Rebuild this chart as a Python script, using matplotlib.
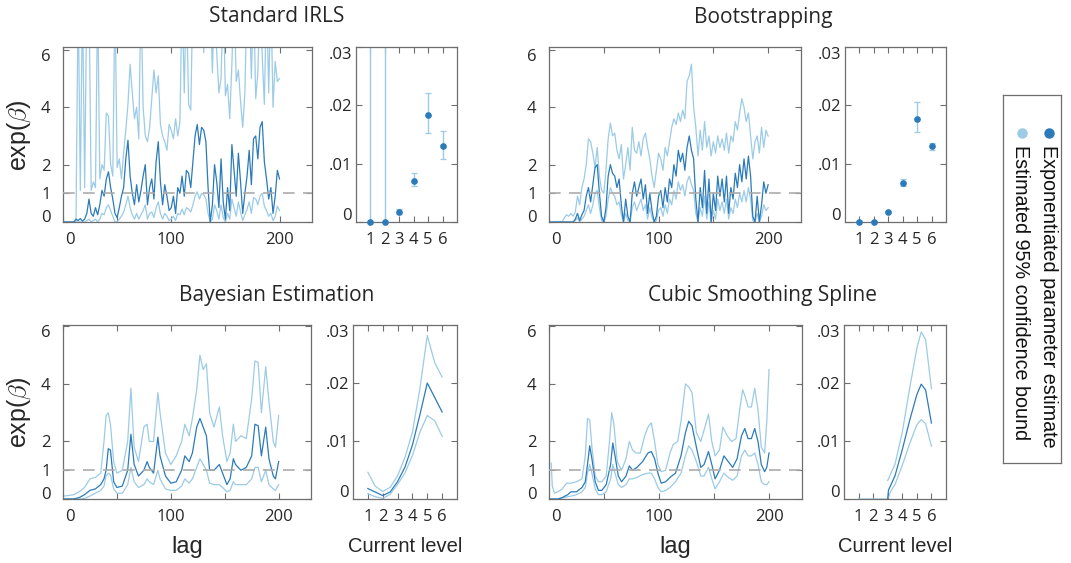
import numpy as np
import matplotlib
matplotlib.use("Agg")
import matplotlib.pyplot as plt
from matplotlib.transforms import ScaledTranslation

plt.rcParams['mathtext.fontset'] = 'cm'

# ---------------- data ----------------
lags2 = list(range(0, 201, 2))

irls_est = [0, 0, 0, 0, 0, 0, 0.1, 0.05, 0.12, 0.03, 0.1,
            0.3, 0.8, 0.3, 0.2, 0.5, 0.25, 0.6, 1.1, 0.9, 1.5,
            1.75, 1.2, 0.8, 0.3, 0.15, 0.5, 0.9, 1.2, 2.2, 2.85,
            1.6, 1.0, 0.6, 1.3, 0.7, 1.1, 1.6, 2.0, 0.6, 1.2,
            1.5, 0.8, 2.1, 2.8, 1.4, 0.6, 1.3, 0.9, 0.4, 0.5,
            0.9, 0.3, 1.2, 1.0, 1.6, 0.9, 1.8, 1.7, 1.2, 2.1,
            3.0, 3.4, 2.7, 3.3, 3.2, 2.8, 1.2, 0.0, 0.6, 2.0,
            1.4, 0.5, 2.2, 0.7, 0.1, 1.2, 0.4, 2.7, 1.8, 0.9,
            2.4, 1.4, 0.3, 1.0, 1.6, 2.5, 1.3, 2.9, 3.0, 2.2,
            3.3, 3.5, 2.1, 1.5, 0.8, 1.2, 0.3, 0.9, 1.8, 1.5]
irls_hi = [0, 0, 0, 0, 0, 0, 0, 8, 1.1, 8, 1.2,
           8, 8, 1.1, 1.4, 1.2, 8, 1.5, 2.0, 1.8, 3.8,
           3.7, 2.0, 1.6, 8, 1.9, 2.2, 1.5, 2.4, 3.2, 4.1,
           5.5, 4.5, 3.6, 4.0, 2.9, 8, 4.0, 3.0, 2.8, 3.3,
           4.3, 5.3, 4.5, 5.1, 3.4, 3.0, 2.8, 2.5, 3.4, 3.2,
           2.9, 3.6, 3.0, 3.5, 8, 4.5, 8, 4.1, 3.9, 8,
           8, 8, 8, 8, 5.9, 8, 8, 8, 5.2, 8,
           5.9, 4.5, 5.0, 8, 4.4, 4.8, 3.6, 5.5, 8, 4.9,
           5.3, 4.2, 3.3, 4.5, 8, 8, 5.0, 8, 4.3, 5.2,
           8, 5.8, 4.1, 8, 4.5, 8, 4.0, 5.6, 4.9, 5.0]
irls_lo = [0, 0, 0, 0, 0, 0, 0, 0, 0, 0, 0,
           0.05, 0.1, 0, 0.05, 0.1, 0, 0.1, 0.3, 0.25, 0.5,
           0.6, 0.4, 0.2, 0.0, 0, 0.1, 0.2, 0.35, 0.6, 0.9,
           0.5, 0.25, 0.1, 0.3, 0.1, 0.25, 0.4, 0.6, 0.1, 0.3,
           0.35, 0.15, 0.5, 0.7, 0.3, 0.1, 0.3, 0.2, 0.05, 0.1,
           0.2, 0.05, 0.3, 0.25, 0.45, 0.25, 0.5, 0.45, 0.35, 0.6,
           0.9, 1.05, 0.8, 1.0, 0.95, 0.8, 0.3, 0, 0.1, 0.6,
           0.4, 0.1, 0.6, 0.15, 0, 0.3, 0.1, 0.8, 0.5, 0.2,
           0.7, 0.35, 0.05, 0.25, 0.45, 0.7, 0.3, 0.85, 0.8, 0.6,
           0.9, 1.0, 0.55, 0.4, 0.2, 0.3, 0.05, 0.2, 0.55, 0.4]

boot_est = [0, 0, 0, 0, 0, 0, 0, 0, 0, 0, 0, 0,
            0.1, 0.3, 0.05, 0.25, 0.4, 0.9, 1.2, 0.7, 1.3,
            1.9, 2.0, 1.0, 0.2, 0, 0.5, 1.6, 2.0, 1.7, 1.6,
            1.2, 1.5, 0.6, 0, 0.8, 0.2, 0, 1.0, 1.4, 0.9,
            1.2, 1.5, 0.8, 1.3, 0.3, 1.0, 0.4, 0, 0.2, 0.9,
            1.1, 0.5, 1.2, 0.7, 1.5, 1.2, 2.0, 1.6, 2.5, 2.1,
            2.4, 1.8, 2.6, 3.0, 2.5, 2.2, 0.8, 0, 1.2, 0.5,
            1.8, 0.3, 1.5, 0, 1.0, 0.4, 1.6, 0.9, 1.5, 0.7,
            1.6, 0.3, 1.2, 0.8, 1.7, 1.2, 2.0, 1.4, 2.2, 1.5,
            2.3, 1.6, 0.2, 0, 0.9, 0, 0.6, 1.4, 1.0, 1.3]
boot_hi = [0, 0, 0, 0, 0, 0, 0, 0.15, 0.25, 0.2, 0.3,
           0.2, 0.35, 0.9, 0.6, 1.2, 1.5, 2.0, 2.9, 2.8, 2.4,
           1.9, 2.6, 1.6, 1.1, 1.0, 1.8, 2.9, 3.45, 3.0, 3.1,
           2.5, 2.2, 2.7, 1.5, 2.0, 2.6, 1.8, 3.3, 2.5, 2.4,
           2.8, 2.3, 2.9, 3.1, 2.6, 2.2, 1.6, 1.2, 1.8, 2.4,
           2.2, 1.8, 2.6, 2.3, 2.8, 3.3, 3.6, 3.4, 3.8, 3.5,
           3.9, 3.6, 4.9, 5.1, 5.5, 4.0, 3.3, 2.3, 3.2, 2.5,
           3.5, 2.6, 3.0, 2.3, 2.8, 2.4, 3.0, 2.6, 2.9, 2.5,
           3.1, 2.4, 3.0, 2.8, 3.5, 3.2, 3.8, 4.3, 4.0, 3.5,
           3.8, 3.0, 2.2, 2.8, 3.0, 2.4, 3.3, 2.6, 3.2, 3.0]
boot_lo = [0, 0, 0, 0, 0, 0, 0, 0, 0, 0, 0, 0,
           0.05, 0.15, 0, 0.1, 0.2, 0.4, 0.6, 0.3, 0.6,
           1.0, 1.1, 0.5, 0.05, 0, 0.2, 0.8, 1.2, 1.0, 0.9,
           0.6, 0.7, 0.25, 0, 0.3, 0.05, 0, 0.5, 0.7, 0.4,
           0.6, 0.8, 0.4, 0.6, 0.1, 0.5, 0.15, 0, 0.05, 0.4,
           0.5, 0.2, 0.6, 0.3, 0.8, 0.6, 1.1, 0.8, 1.4, 1.1,
           1.3, 0.9, 1.4, 1.6, 1.3, 1.1, 0.3, 0, 0.5, 0.2,
           0.9, 0.1, 0.7, 0, 0.4, 0.1, 0.8, 0.4, 0.7, 0.3,
           0.8, 0.1, 0.5, 0.3, 0.8, 0.5, 1.0, 0.7, 1.1, 0.7,
           1.2, 0.8, 0.05, 0, 0.3, 0, 0.2, 0.6, 0.4, 0.5]

bayes_lag = [0, 5, 10, 15, 20, 25, 30, 35, 38, 40, 42, 44, 47, 50, 55,
             60, 63, 66, 70, 75, 78, 80, 84, 88, 90, 95, 100, 105, 110, 113,
             117, 120, 124, 127, 130, 133, 136, 140, 145, 148, 152, 155, 158, 160, 165,
             170, 175, 178, 181, 184, 188, 191, 195, 197, 200]
bayes_est = [0, 0, 0, 0.05, 0.15, 0.3, 0.35, 0.5, 0.7, 1.0, 1.75, 1.7, 0.6, 0.4, 0.45,
             1.0, 2.25, 1.2, 0.8, 1.0, 1.3, 1.1, 0.9, 2.15, 1.5, 0.8, 0.55, 0.6, 1.0, 1.5,
             1.3, 1.6, 2.5, 2.8, 2.5, 2.2, 1.0, 1.0, 1.2, 0.9, 0.5, 0.7, 1.4, 1.2, 1.0,
             1.1, 1.5, 2.6, 2.55, 1.5, 2.5, 1.4, 0.8, 0.7, 1.3]
bayes_hi = [0.1, 0.12, 0.15, 0.25, 0.4, 0.7, 0.75, 0.9, 2.0, 2.9, 3.0, 2.6, 1.3, 0.9, 1.0,
            2.0, 3.85, 1.8, 1.3, 2.5, 2.6, 2.0, 2.0, 3.7, 3.0, 1.6, 1.2, 1.5, 2.0, 2.6,
            2.2, 2.8, 3.8, 5.0, 4.5, 4.7, 3.0, 2.5, 3.2, 2.2, 1.3, 1.6, 2.6, 2.0, 2.2,
            2.1, 3.5, 4.8, 4.75, 3.0, 4.6, 3.4, 2.0, 1.8, 2.9]
bayes_lo = [0, 0, 0, 0, 0.02, 0.1, 0.2, 0.3, 0.45, 0.8, 0.9, 0.85, 0.35, 0.2, 0.2,
            0.5, 1.1, 0.6, 0.4, 0.5, 0.7, 0.6, 0.5, 1.0, 0.7, 0.35, 0.3, 0.3, 0.45, 0.7,
            0.55, 0.7, 1.1, 1.4, 1.2, 1.0, 0.55, 0.5, 0.5, 0.4, 0.25, 0.3, 0.6, 0.5, 0.5,
            0.5, 0.7, 1.1, 1.1, 0.6, 1.0, 0.5, 0.35, 0.3, 0.5]

spl_lag = [0, 8, 12, 17, 20, 25, 30, 33, 35, 37, 39, 42, 45, 48, 52,
           56, 58, 60, 63, 66, 70, 73, 76, 80, 85, 90, 93, 96, 99, 102,
           106, 110, 115, 120, 124, 127, 130, 134, 138, 141, 145, 148, 151, 155, 159,
           163, 167, 171, 175, 178, 181, 184, 187, 190, 193, 196, 198, 200]
spl_est = [0, 0, 0.05, 0.15, 0.25, 0.25, 0.4, 0.6, 1.2, 1.85, 1.4, 0.6, 0.3, 0.3, 0.5,
           1.2, 1.95, 1.5, 0.8, 0.6, 0.8, 1.15, 1.0, 1.1, 1.3, 1.6, 1.65, 1.4, 0.9, 0.55,
           0.6, 0.75, 0.9, 1.5, 2.3, 2.7, 2.55, 1.8, 1.1, 1.2, 1.65, 1.2, 0.7, 1.0, 1.5,
           1.3, 1.1, 1.4, 2.2, 2.45, 2.1, 2.1, 2.45, 2.0, 1.2, 0.95, 1.1, 1.6]
spl_lo = [0, 0, 0.03, 0.08, 0.1, 0.15, 0.25, 0.4, 0.9, 1.2, 0.9, 0.35, 0.15, 0.15, 0.25,
          0.7, 1.2, 0.9, 0.5, 0.4, 0.5, 0.7, 0.7, 0.75, 0.85, 0.9, 0.9, 0.7, 0.4, 0.25,
          0.3, 0.4, 0.6, 0.9, 1.5, 1.85, 1.7, 1.3, 0.8, 0.8, 1.1, 0.7, 0.35, 0.6, 0.9,
          0.75, 0.65, 0.8, 1.5, 1.7, 1.5, 1.5, 1.6, 1.2, 0.6, 0.5, 0.5, 0.6]
spl_hi_lag = [2, 3, 5, 8, 12, 16, 20, 25, 30, 33, 35, 37, 39, 42, 45,
              48, 52, 55, 57, 59, 62, 66, 70, 73, 76, 79, 83, 87, 90, 93,
              96, 99, 102, 106, 110, 113, 117, 120, 124, 127, 130, 134, 138, 141, 145,
              148, 151, 155, 158, 162, 166, 170, 173, 176, 178, 181, 184, 187, 190, 193,
              196, 198, 200]
spl_hi = [1.25, 0.45, 0.2, 0.25, 0.35, 0.55, 0.55, 0.6, 0.7, 1.5, 2.8, 2.75, 1.8, 0.8, 0.6,
          0.6, 0.8, 2.0, 3.0, 2.6, 1.3, 1.0, 1.4, 2.0, 1.7, 1.6, 1.6, 2.2, 2.5, 2.65,
          2.0, 1.2, 0.95, 1.0, 1.6, 1.9, 2.0, 2.7, 4.0, 3.9, 3.7, 2.3, 2.0, 2.4, 2.95,
          2.0, 1.5, 1.7, 2.5, 2.2, 2.0, 2.1, 3.0, 3.8, 3.6, 3.2, 3.2, 3.85, 3.1, 1.8,
          1.6, 2.7, 4.5]

# current-level panels
levels = [1, 2, 3, 4, 5, 6]
irls_lvl_est = [0, 0, 0.0017, 0.00705, 0.0184, 0.0130]
irls_lvl_lo = [0, 0, 0.0014, 0.0061, 0.0153, 0.0108]
irls_lvl_hi = [0.05, 0.05, 0.0022, 0.0084, 0.0221, 0.0156]
boot_lvl_est = [0, 0, 0.0017, 0.0067, 0.0177, 0.0130]
boot_lvl_lo = [0, 0, 0.0015, 0.0061, 0.0154, 0.0124]
boot_lvl_hi = [0.0001, 0.0001, 0.0019, 0.0074, 0.0206, 0.0135]

bayes_lvl_x = [1, 1.5, 2, 2.5, 3, 3.5, 4, 4.5, 5, 5.5, 6]
bayes_lvl_est = [0.0018, 0.0012, 0.0006, 0.0012, 0.003, 0.0055, 0.0093, 0.0145, 0.020, 0.0175, 0.015]
bayes_lvl_hi = [0.0046, 0.0022, 0.0013, 0.002, 0.004, 0.0072, 0.0115, 0.019, 0.0282, 0.0235, 0.021]
bayes_lvl_lo = [0.0009, 0.0004, 0.0001, 0.0008, 0.0025, 0.0045, 0.0075, 0.0115, 0.0144, 0.0135, 0.0108]

spl_lvl_est_x = [3, 3.05, 3.5, 4, 4.5, 5, 5.3, 5.6, 6]
spl_lvl_est = [0, 0.0015, 0.004, 0.0085, 0.0135, 0.018, 0.0198, 0.0188, 0.0131]
spl_lvl_lo_x = [1, 3.0, 3.2, 3.5, 4, 4.5, 5, 5.3, 5.6, 6]
spl_lvl_lo = [0, 0, 0.0013, 0.0025, 0.0058, 0.0095, 0.0128, 0.0137, 0.0130, 0.0091]
spl_lvl_hi_x = [3, 3.5, 4, 4.5, 5, 5.3, 5.6, 6]
spl_lvl_hi = [0.0032, 0.006, 0.0115, 0.019, 0.026, 0.0288, 0.0275, 0.019]

titles = ["Standard IRLS", "Bootstrapping", "Bayesian Estimation", "Cubic Smoothing Spline"]
legend_labels = ["Exponentiated parameter estimate", "Estimated 95% confidence bound"]

# ---------------- style ----------------
DARK = '#2b7bba'
LIGHT = '#9ccbe6'
GRID = '#ababab'
SPINE = '#6e6e6e'
TXT = '#262626'
TICKFONT = ['Open Sans', 'DejaVu Sans']
NARROW = ['Liberation Sans Narrow', 'Liberation Sans', 'DejaVu Sans']

W, H = 1071, 563
fig = plt.figure(figsize=(W / 100, H / 100), dpi=100)


def rect(l, r, t, b):
    return [l / W, 1 - b / H, (r - l) / W, (b - t) / H]


def shift(label, dx, dy):
    label.set_transform(label.get_transform() + ScaledTranslation(dx / 100, dy / 100, fig.dpi_scale_trans))


def style(ax):
    for s in ax.spines.values():
        s.set_color(SPINE)
        s.set_linewidth(0.9)
    ax.tick_params(direction='in', top=True, right=True, length=4, width=0.8,
                   color=SPINE, labelcolor=TXT, labelsize=12)
    for lab in ax.get_xticklabels() + ax.get_yticklabels():
        lab.set_family(TICKFONT)


def big_panel(ax, x_est, est, x_hi, hi, x_lo, lo, top=6.1):
    ax.plot(x_hi, hi, color=LIGHT, lw=0.9)
    ax.plot(x_lo, lo, color=LIGHT, lw=0.9)
    ax.plot(x_est, est, color=DARK, lw=0.9)
    ax.plot([0, 230], [1, 1], color=GRID, lw=1.2, dashes=(7, 5), zorder=4)
    ax.set_xlim(0, 230)
    ax.set_ylim(0, top)
    ax.set_xticks([0, 50, 100, 150, 200])
    ax.set_xticklabels(['0', '', '100', '', '200'])
    ax.set_yticks([0, 1, 2, 4, 6])
    ax.set_yticklabels(['0', '1', '2', '4', '6'])
    style(ax)
    ax.tick_params(axis='y', pad=9)
    ax.tick_params(axis='x', pad=7)
    xl = ax.get_xticklabels()
    shift(xl[0], 7, 0)
    yl = ax.get_yticklabels()
    shift(yl[0], 0, 6)
    shift(yl[-1], 0, -5)


def small_panel(ax):
    ax.set_xlim(0, 7)
    ax.set_ylim(0, 0.03)
    ax.set_xticks(levels)
    ax.set_xticklabels([str(v) for v in levels])
    ax.set_yticks([0, 0.01, 0.02, 0.03])
    ax.set_yticklabels(['0', '.01', '.02', '.03'])
    style(ax)
    ax.tick_params(axis='y', pad=3)
    ax.tick_params(axis='x', pad=7)
    yl = ax.get_yticklabels()
    shift(yl[0], 0, 8)
    shift(yl[-1], 0, -6)


def errbar_panel(ax, est, lo, hi):
    yerr = [np.array(est) - np.array(lo), np.array(hi) - np.array(est)]
    ax.errorbar(levels, est, yerr=yerr, fmt='none', ecolor=LIGHT, elinewidth=1.0,
                capsize=2.5, capthick=0.9, clip_on=True)
    ax.plot(levels, est, 'o', color=DARK, ms=3.8, mec=DARK, clip_on=False, zorder=5)


# top row
ax1 = fig.add_axes(rect(63, 312, 47, 222))
big_panel(ax1, lags2, irls_est, lags2, irls_hi, lags2, irls_lo)
ax2 = fig.add_axes(rect(356, 457, 47, 222))
errbar_panel(ax2, irls_lvl_est, irls_lvl_lo, irls_lvl_hi)
small_panel(ax2)

ax3 = fig.add_axes(rect(549, 801, 47, 222))
big_panel(ax3, lags2, boot_est, lags2, boot_hi, lags2, boot_lo)
ax4 = fig.add_axes(rect(845, 946, 47, 222))
errbar_panel(ax4, boot_lvl_est, boot_lvl_lo, boot_lvl_hi)
small_panel(ax4)

# bottom row
ax5 = fig.add_axes(rect(63, 311, 325, 499))
big_panel(ax5, bayes_lag, bayes_est, bayes_lag, bayes_hi, bayes_lag, bayes_lo, top=6.05)
ax6 = fig.add_axes(rect(353, 457, 325, 499))
ax6.plot(bayes_lvl_x, bayes_lvl_hi, color=LIGHT, lw=0.9)
ax6.plot(bayes_lvl_x, bayes_lvl_lo, color=LIGHT, lw=0.9)
ax6.plot(bayes_lvl_x, bayes_lvl_est, color=DARK, lw=0.9)
small_panel(ax6)

ax7 = fig.add_axes(rect(549, 802, 325, 499))
big_panel(ax7, spl_lag, spl_est, spl_hi_lag, spl_hi, spl_lag, spl_lo, top=6.05)
ax8 = fig.add_axes(rect(844, 946, 325, 499))
ax8.plot(spl_lvl_hi_x, spl_lvl_hi, color=LIGHT, lw=0.9)
ax8.plot(spl_lvl_lo_x, spl_lvl_lo, color=LIGHT, lw=0.9, clip_on=False)
ax8.plot(spl_lvl_est_x, spl_lvl_est, color=DARK, lw=0.9)
small_panel(ax8)


def ftext(x, y, s, **kw):
    return fig.text(x / W, 1 - y / H, s, ha='center', va='center', color=TXT, **kw)


# y labels
for yc in (135, 412):
    ftext(19, yc, r'exp($\beta$)', rotation=90, fontsize=18,
          family=['Liberation Sans', 'DejaVu Sans'])
# x labels
for xc in (187, 675):
    ftext(xc, 547, 'lag', fontsize=17, family=NARROW)
for xc in (405, 895):
    ftext(xc, 547, 'Current level', fontsize=14.5, family=NARROW)

# titles
title_pos = [(277, 17), (763, 17), (277, 295), (763, 295)]
for t, (x, y) in zip(titles, title_pos):
    ftext(x, y, t, fontsize=15, family=TICKFONT)

# legend box
axl = fig.add_axes(rect(1003, 1061, 95, 463))
axl.set_xlim(0, 1)
axl.set_ylim(0, 1)
axl.set_xticks([])
axl.set_yticks([])
for s in axl.spines.values():
    s.set_color(SPINE)
    s.set_linewidth(0.9)
axl.plot([0.33], [0.897], 'o', color=LIGHT, ms=6.5)
axl.plot([0.79], [0.897], 'o', color=DARK, ms=6.5)
axl.text(0.78, 0.865, legend_labels[0], rotation=270, ha='center', va='top',
         fontsize=14.2, color='#111111', family=['Liberation Sans', 'DejaVu Sans'])
axl.text(0.31, 0.865, legend_labels[1], rotation=270, ha='center', va='top',
         fontsize=14.2, color='#111111', family=['Liberation Sans', 'DejaVu Sans'])

fig.savefig('out.png', dpi=100)
